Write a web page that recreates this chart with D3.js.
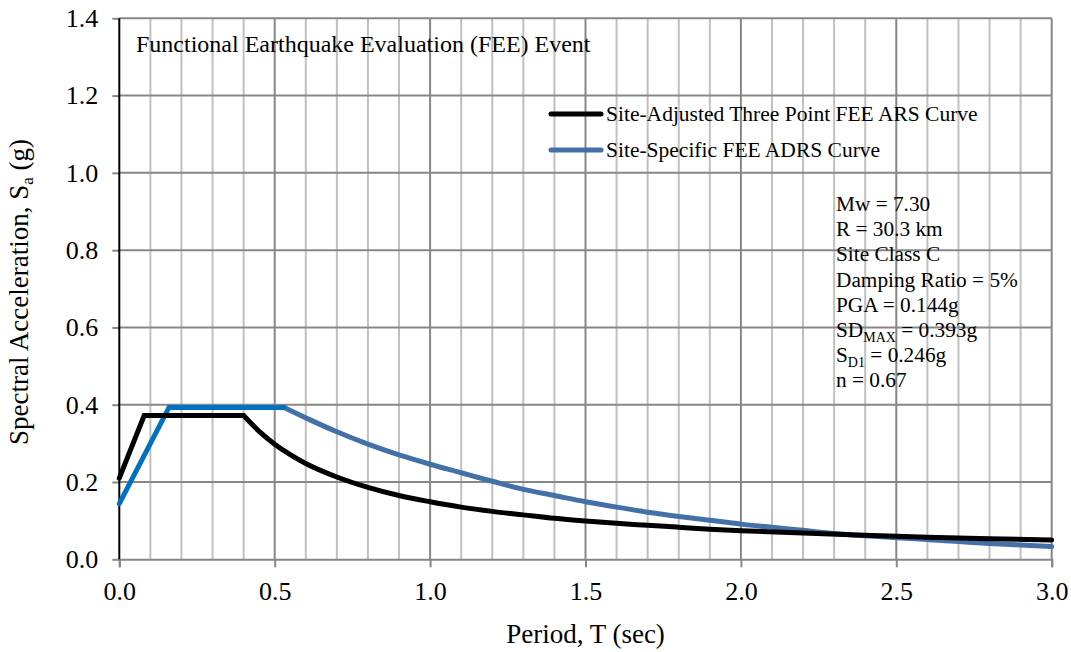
<!DOCTYPE html>
<html>
<head>
<meta charset="utf-8">
<script src="https://cdn.jsdelivr.net/npm/d3@7"></script>
<style>
  body { margin: 0; background: #fff; }
  text { font-family: "Liberation Serif", "Times New Roman", serif; fill: #000; }
</style>
</head>
<body>
<script>
// data
// three point ARS curve (black): ramp and plateau, then the long period branch
var arsRiseT  = [0, 0.08, 0.40];
var arsRiseSa = [0.210, 0.372, 0.372];
var arsT  = [0.40, 0.45, 0.50, 0.55, 0.60, 0.70, 0.80, 0.90, 1.0, 1.1, 1.2, 1.3, 1.4, 1.5,
             1.6, 1.7, 1.8, 1.9, 2.0, 2.2, 2.4, 2.6, 2.8, 3.0];
var arsSa = [0.372, 0.331, 0.298, 0.271, 0.248, 0.213, 0.186, 0.165, 0.149, 0.135, 0.124, 0.115,
             0.106, 0.099, 0.093, 0.088, 0.083, 0.078, 0.074, 0.068, 0.062, 0.057, 0.053, 0.050];

// site-specific ADRS curve, rising part and plateau
var adrsRiseT  = [0, 0.16, 0.53];
var adrsRiseSa = [0.144, 0.393, 0.393];
// site-specific ADRS curve, long period part
var adrsT  = [0.53, 0.6, 0.7, 0.8, 0.9, 1.0, 1.1, 1.2, 1.3, 1.4, 1.5, 1.6, 1.7, 1.8, 1.9, 2.0,
              2.1, 2.2, 2.3, 2.4, 2.5, 2.6, 2.7, 2.8, 2.9, 3.0];
var adrsSa = [0.393, 0.366, 0.330, 0.298, 0.270, 0.246, 0.224, 0.202, 0.181, 0.165, 0.149, 0.135,
              0.122, 0.111, 0.101, 0.091, 0.083, 0.075, 0.067, 0.061, 0.056, 0.051, 0.046, 0.041, 0.037, 0.033];

var xTicks = [0, 0.5, 1.0, 1.5, 2.0, 2.5, 3.0];
var yTicks = [0, 0.2, 0.4, 0.6, 0.8, 1.0, 1.2, 1.4];
var legendNames = ["Site-Adjusted Three Point FEE ARS Curve", "Site-Specific FEE ADRS Curve"];
var infoLines = ["Mw = 7.30", "R = 30.3 km", "Site Class C", "Damping Ratio = 5%", "PGA = 0.144g",
                 "SD|MAX| = 0.393g", "S|D1| = 0.246g", "n = 0.67"];

var w = 1071;
var h = 652;
var pLeft = 119.3, pRight = 1051.7, pTop = 18.3, pBottom = 559.3;

var svg = d3.select("body")
            .append("svg")
            .attr("width", w)
            .attr("height", h);

var xScale = d3.scaleLinear().domain([0, 3]).range([pLeft, pRight]);
var yScale = d3.scaleLinear().domain([0, 1.4]).range([pBottom, pTop]);

// vertical gridlines every 0.1, darker every 0.5
var vGrid = d3.range(1, 31).map(function(i) { return i / 10; });
svg.append("g")
   .selectAll("line")
   .data(vGrid)
   .enter()
   .append("line")
   .attr("x1", function(d) { return xScale(d); })
   .attr("x2", function(d) { return xScale(d); })
   .attr("y1", pTop)
   .attr("y2", pBottom)
   .attr("stroke", function(d, i) { return (i + 1) % 5 === 0 ? "#878787" : "#c0c0c0"; })
   .attr("stroke-width", 2);

// horizontal gridlines
svg.append("g")
   .selectAll("line")
   .data(yTicks.slice(1))
   .enter()
   .append("line")
   .attr("x1", pLeft)
   .attr("x2", pRight)
   .attr("y1", function(d) { return yScale(d); })
   .attr("y2", function(d) { return yScale(d); })
   .attr("stroke", "#878787")
   .attr("stroke-width", 2);

// x axis
var xAxis = svg.append("g")
   .attr("transform", "translate(0," + pBottom + ")")
   .call(d3.axisBottom(xScale).tickValues(xTicks).tickSize(8).tickPadding(14)
           .tickFormat(d3.format(".1f")));
xAxis.select(".domain").attr("stroke", "#878787").attr("stroke-width", 2);
xAxis.selectAll(".tick line").attr("stroke", "#878787").attr("stroke-width", 2);
xAxis.selectAll("text").style("font-size", "26px").attr("font-family", null);

// y axis
var yAxis = svg.append("g")
   .attr("transform", "translate(" + pLeft + ",0)")
   .call(d3.axisLeft(yScale).tickValues(yTicks).tickSize(7).tickPadding(14)
           .tickFormat(d3.format(".1f")));
yAxis.select(".domain").attr("stroke-width", 0);
yAxis.selectAll(".tick line").attr("stroke", "#878787").attr("stroke-width", 2);
yAxis.selectAll("text").style("font-size", "26px").attr("font-family", null);
svg.append("line")
   .attr("x1", pLeft).attr("x2", pLeft)
   .attr("y1", pTop).attr("y2", pBottom)
   .attr("stroke", "#000").attr("stroke-width", 2);

// curves: straight ramps, smooth long period branches
var straight = d3.line()
             .x(function(d) { return xScale(d[0]); })
             .y(function(d) { return yScale(d[1]); });
var smooth = d3.line()
             .curve(d3.curveMonotoneX)
             .x(function(d) { return xScale(d[0]); })
             .y(function(d) { return yScale(d[1]); });

function pairs(ts, vals) {
  return ts.map(function(t, i) { return [t, vals[i]]; });
}

function drawCurve(gen, data, color) {
  svg.append("path")
     .attr("d", gen(data))
     .attr("fill", "none")
     .attr("stroke", color)
     .attr("stroke-width", 5)
     .attr("stroke-linecap", "round");
}

drawCurve(smooth, pairs(adrsT, adrsSa), "#4470a8");
drawCurve(straight, pairs(adrsRiseT, adrsRiseSa), "#0070c0");
drawCurve(smooth, pairs(arsT, arsSa), "#000");
drawCurve(straight, pairs(arsRiseT, arsRiseSa), "#000");

// title inside the plot
svg.append("text")
   .attr("x", 136)
   .attr("y", 52)
   .style("font-size", "24px")
   .text("Functional Earthquake Evaluation (FEE) Event");

// legend
var legendColors = ["#000", "#4470a8"];
legendNames.forEach(function(name, i) {
  var y = 114 + i * 36;
  svg.append("line")
     .attr("x1", 551).attr("x2", 601)
     .attr("y1", y).attr("y2", y)
     .attr("stroke", legendColors[i])
     .attr("stroke-width", 5)
     .attr("stroke-linecap", "round");
  svg.append("text")
     .attr("x", 606)
     .attr("y", y + 7)
     .style("font-size", "21.5px")
     .text(name);
});

// site info, parts between bars are subscripts
infoLines.forEach(function(txt, i) {
  var t = svg.append("text")
             .attr("x", 836)
             .attr("y", 211 + i * 25.2)
             .style("font-size", "21.3px");
  txt.split("|").forEach(function(part, j) {
    if (part === "") return;
    var span = t.append("tspan").text(part);
    if (j % 2 === 1) {
      span.attr("dy", 5).style("font-size", "14px");
    } else if (j > 0) {
      span.attr("dy", -5);
    }
  });
});

// axis titles
svg.append("text")
   .attr("x", (pLeft + pRight) / 2)
   .attr("y", 643)
   .attr("text-anchor", "middle")
   .style("font-size", "27px")
   .text("Period, T (sec)");

var yTitle = svg.append("text")
   .attr("transform", "translate(28,292) rotate(-90)")
   .attr("text-anchor", "middle")
   .style("font-size", "27px");
yTitle.append("tspan").text("Spectral Acceleration, S");
yTitle.append("tspan").attr("dy", 5).style("font-size", "17px").text("a");
yTitle.append("tspan").attr("dy", -5).text(" (g)");
</script>
</body>
</html>
